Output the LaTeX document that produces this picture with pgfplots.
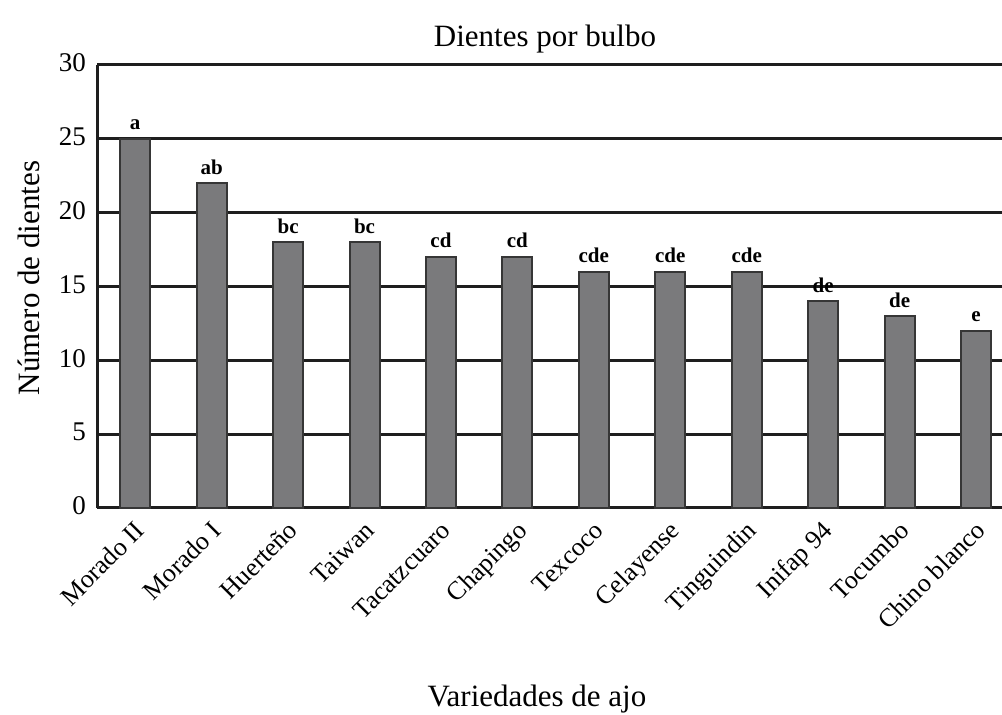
\documentclass[border=0pt]{standalone}
\usepackage{pgfplots}
\pgfplotsset{compat=1.18}
\usepackage{fontspec}
\setmainfont{Liberation Serif}
\definecolor{barfill}{HTML}{7A7A7C}
\definecolor{bardraw}{HTML}{363636}
\definecolor{gridc}{HTML}{1E1E1E}
\begin{document}
\begin{tikzpicture}
\path[use as bounding box] (0,0) rectangle (1002pt,715pt);
\begin{axis}[
 at={(97pt,207pt)}, anchor=south west,
 scale only axis, width=905pt, height=443pt,
 xmin=-0.5, xmax=11.34, ymin=0, ymax=30,
 axis x line*=bottom, axis y line*=left,
 axis line style={-, line width=3pt, gridc},
 ytick={0,5,...,30},
 xtick={0,...,11},
 xticklabels={Morado II, Morado I, Huerteño, Taiwan, Tacatzcuaro, Chapingo, Texcoco, Celayense, Tinguindin, Inifap 94, Tocumbo, Chino blanco},
 major tick length=0pt,
 ymajorgrids, major grid style={line width=3pt, gridc},
 yticklabel style={font=\fontsize{27}{30}\selectfont, anchor=east, inner sep=0pt, xshift=-11pt, yshift=2pt},
 xticklabel style={font=\fontsize{26}{30}\selectfont, anchor=base east, inner sep=0pt, xshift=11pt, yshift=-24pt, rotate=45},
 /pgf/number format/assume math mode=true,
 ybar, bar width=30pt, bar shift=0pt,
 nodes near coords, point meta=explicit symbolic,
 every node near coord/.append style={font=\bfseries\fontsize{21}{24}\selectfont, anchor=base, inner sep=0pt, yshift=9pt},
 clip=false,
]
\addplot[fill=barfill, draw=bardraw, line width=2pt] coordinates {
 (0,25)[a] (1,22)[ab] (2,18)[bc] (3,18)[bc] (4,17)[cd] (5,17)[cd]
 (6,16)[cde] (7,16)[cde] (8,16)[cde] (9,14)[de] (10,13)[de] (11,12)[e]};
\end{axis}
\node[anchor=base, font=\fontsize{31}{36}\selectfont] at (545pt,668pt) {Dientes por bulbo};
\node[anchor=base, font=\fontsize{31}{36}\selectfont] at (537pt,8pt) {Variedades de ajo};
\node[anchor=base, rotate=90, font=\fontsize{31}{36}\selectfont] at (39pt,437pt) {Número de dientes};
\end{tikzpicture}
\end{document}
